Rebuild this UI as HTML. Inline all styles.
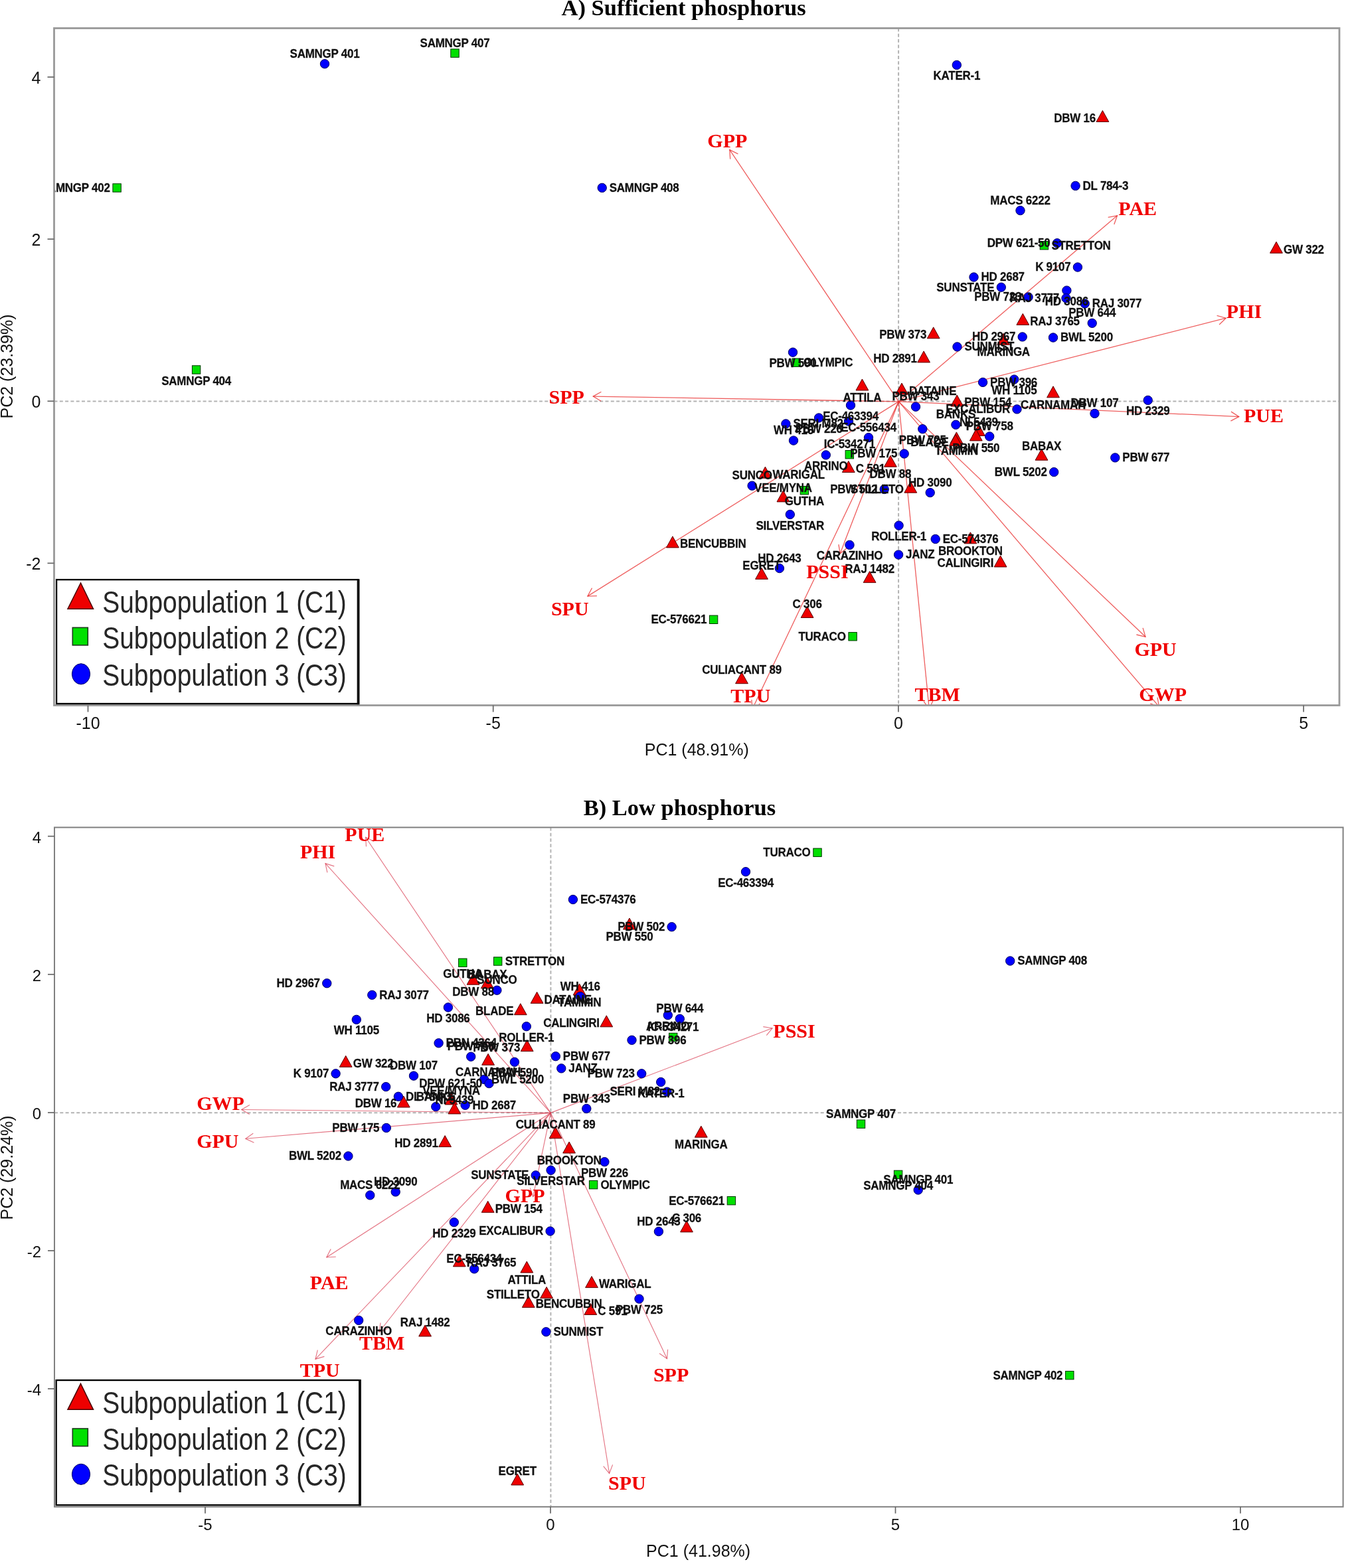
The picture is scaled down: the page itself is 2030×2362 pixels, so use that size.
<!DOCTYPE html>
<html><head><meta charset="utf-8"><title>PCA biplot</title>
<style>html,body{margin:0;padding:0;background:#fff;}svg{display:block;}</style></head>
<body><svg width="2030" height="2362" viewBox="0 0 2030 2362">
<rect width="2030" height="2362" fill="#fff"/>
<defs><clipPath id="clipA"><rect x="81.5" y="42.5" width="1935.5" height="1020.0"/></clipPath></defs>
<g stroke="#b3b3b3" stroke-width="2" stroke-dasharray="5,3.3" fill="none">
<line x1="1353.1" y1="42.5" x2="1353.1" y2="1062.5"/>
<line x1="81.5" y1="604.5" x2="2017.0" y2="604.5"/>
</g>
<g clip-path="url(#clipA)" stroke="#e82828" stroke-opacity="0.75" stroke-width="1.3" fill="none">
<line x1="1353.3" y1="604.9" x2="1098.8" y2="225.6"/><polyline points="1111.4,231.8 1098.8,225.6 1099.7,239.6"/>
<line x1="1353.3" y1="604.9" x2="1682.5" y2="324.8"/><polyline points="1677.8,338.0 1682.5,324.8 1668.7,327.3"/>
<line x1="1353.3" y1="604.9" x2="1846.1" y2="479.2"/><polyline points="1836.1,489.0 1846.1,479.2 1832.6,475.4"/>
<line x1="1353.3" y1="604.9" x2="1865.8" y2="627.6"/><polyline points="1853.4,634.1 1865.8,627.6 1854.0,620.1"/>
<line x1="1353.3" y1="604.9" x2="1725.0" y2="959.3"/><polyline points="1711.4,956.0 1725.0,959.3 1721.1,945.9"/>
<line x1="1353.3" y1="604.9" x2="1745.5" y2="1064.5"/><polyline points="1732.3,1059.8 1745.5,1064.5 1743.0,1050.7"/>
<line x1="1353.3" y1="604.9" x2="1399.3" y2="1068.0"/><polyline points="1391.1,1056.6 1399.3,1068.0 1405.1,1055.2"/>
<line x1="1353.3" y1="604.9" x2="1133.0" y2="1068.0"/><polyline points="1131.9,1054.0 1133.0,1068.0 1144.5,1060.1"/>
<line x1="1353.3" y1="604.9" x2="884.9" y2="898.1"/><polyline points="891.5,885.7 884.9,898.1 898.9,897.6"/>
<line x1="1353.3" y1="604.9" x2="893.2" y2="597.1"/><polyline points="905.4,590.3 893.2,597.1 905.2,604.3"/>
<line x1="1353.3" y1="604.9" x2="1265.1" y2="833.9"/><polyline points="1262.9,820.1 1265.1,833.9 1276.0,825.1"/>
</g>
<g clip-path="url(#clipA)">
<g fill="#ee0000" stroke="#5a0000" stroke-width="1">
<path d="M1660.4 166.5L1669.8 183.5L1651.0 183.5Z"/>
<path d="M1922.0 364.2L1931.4 381.2L1912.6 381.2Z"/>
<path d="M1540.3 472.4L1549.7 489.4L1530.9 489.4Z"/>
<path d="M1511.2 502.3L1520.6 519.3L1501.8 519.3Z"/>
<path d="M1405.7 492.8L1415.1 509.8L1396.3 509.8Z"/>
<path d="M1391.1 528.9L1400.5 545.9L1381.7 545.9Z"/>
<path d="M1298.4 571.0L1307.8 588.0L1289.0 588.0Z"/>
<path d="M1358.0 577.1L1367.4 594.1L1348.6 594.1Z"/>
<path d="M1586.0 581.8L1595.4 598.8L1576.6 598.8Z"/>
<path d="M1441.2 595.0L1450.6 612.0L1431.8 612.0Z"/>
<path d="M1473.9 639.4L1483.3 656.4L1464.5 656.4Z"/>
<path d="M1469.8 646.9L1479.2 663.9L1460.4 663.9Z"/>
<path d="M1440.4 650.9L1449.8 667.9L1431.0 667.9Z"/>
<path d="M1439.0 654.4L1448.4 671.4L1429.6 671.4Z"/>
<path d="M1568.5 676.2L1577.9 693.2L1559.1 693.2Z"/>
<path d="M1340.9 686.2L1350.3 703.2L1331.5 703.2Z"/>
<path d="M1277.8 694.5L1287.2 711.5L1268.4 711.5Z"/>
<path d="M1152.4 703.2L1161.8 720.2L1143.0 720.2Z"/>
<path d="M1179.4 738.9L1188.8 755.9L1170.0 755.9Z"/>
<path d="M1371.3 725.2L1380.7 742.2L1361.9 742.2Z"/>
<path d="M1012.9 807.9L1022.3 824.9L1003.5 824.9Z"/>
<path d="M1461.4 801.8L1470.8 818.8L1452.0 818.8Z"/>
<path d="M1506.6 837.0L1516.0 854.0L1497.2 854.0Z"/>
<path d="M1309.6 860.6L1319.0 877.6L1300.2 877.6Z"/>
<path d="M1147.0 855.4L1156.4 872.4L1137.6 872.4Z"/>
<path d="M1215.6 913.4L1225.0 930.4L1206.2 930.4Z"/>
<path d="M1117.0 1012.7L1126.4 1029.7L1107.6 1029.7Z"/>
</g><g fill="#00e000" stroke="#003300" stroke-width="1">
<rect x="678.8" y="73.9" width="12.4" height="12.4"/>
<rect x="169.9" y="276.8" width="12.4" height="12.4"/>
<rect x="289.4" y="550.8" width="12.4" height="12.4"/>
<rect x="1566.2" y="363.5" width="12.4" height="12.4"/>
<rect x="1192.9" y="540.0" width="12.4" height="12.4"/>
<rect x="1273.1" y="678.5" width="12.4" height="12.4"/>
<rect x="1205.2" y="732.5" width="12.4" height="12.4"/>
<rect x="1068.4" y="927.1" width="12.4" height="12.4"/>
<rect x="1277.9" y="952.6" width="12.4" height="12.4"/>
</g><g fill="#0000ff" stroke="#000060" stroke-width="1">
<circle cx="489.0" cy="96.2" r="6.7"/>
<circle cx="906.7" cy="282.9" r="6.7"/>
<circle cx="1440.8" cy="97.9" r="6.7"/>
<circle cx="1619.6" cy="279.9" r="6.7"/>
<circle cx="1536.5" cy="317.1" r="6.7"/>
<circle cx="1592.0" cy="366.3" r="6.7"/>
<circle cx="1622.9" cy="402.5" r="6.7"/>
<circle cx="1466.5" cy="417.5" r="6.7"/>
<circle cx="1507.8" cy="432.7" r="6.7"/>
<circle cx="1548.6" cy="447.4" r="6.7"/>
<circle cx="1606.4" cy="437.6" r="6.7"/>
<circle cx="1605.5" cy="449.2" r="6.7"/>
<circle cx="1633.7" cy="457.4" r="6.7"/>
<circle cx="1644.7" cy="486.8" r="6.7"/>
<circle cx="1539.7" cy="507.4" r="6.7"/>
<circle cx="1586.0" cy="508.5" r="6.7"/>
<circle cx="1441.5" cy="522.4" r="6.7"/>
<circle cx="1480.1" cy="575.9" r="6.7"/>
<circle cx="1527.3" cy="571.6" r="6.7"/>
<circle cx="1728.7" cy="602.9" r="6.7"/>
<circle cx="1648.5" cy="622.9" r="6.7"/>
<circle cx="1379.0" cy="612.7" r="6.7"/>
<circle cx="1531.5" cy="616.4" r="6.7"/>
<circle cx="1439.4" cy="639.8" r="6.7"/>
<circle cx="1490.2" cy="657.4" r="6.7"/>
<circle cx="1389.3" cy="646.2" r="6.7"/>
<circle cx="1679.3" cy="689.4" r="6.7"/>
<circle cx="1587.2" cy="711.1" r="6.7"/>
<circle cx="1361.7" cy="683.5" r="6.7"/>
<circle cx="1400.7" cy="742.1" r="6.7"/>
<circle cx="1194.0" cy="530.7" r="6.7"/>
<circle cx="1281.0" cy="610.5" r="6.7"/>
<circle cx="1233.1" cy="629.5" r="6.7"/>
<circle cx="1278.0" cy="634.6" r="6.7"/>
<circle cx="1183.4" cy="638.4" r="6.7"/>
<circle cx="1195.0" cy="663.6" r="6.7"/>
<circle cx="1308.0" cy="659.1" r="6.7"/>
<circle cx="1243.8" cy="685.4" r="6.7"/>
<circle cx="1132.6" cy="731.7" r="6.7"/>
<circle cx="1189.8" cy="775.0" r="6.7"/>
<circle cx="1331.7" cy="737.0" r="6.7"/>
<circle cx="1279.5" cy="820.9" r="6.7"/>
<circle cx="1353.6" cy="791.6" r="6.7"/>
<circle cx="1353.1" cy="835.6" r="6.7"/>
<circle cx="1408.7" cy="812.0" r="6.7"/>
<circle cx="1173.9" cy="856.1" r="6.7"/>
</g>
<g font-family="Liberation Sans, Arial, sans-serif" font-weight="bold" font-size="17" letter-spacing="-0.25" fill="#111" stroke="#111" stroke-width="0.25">
<text transform="translate(1649.9 183.9) scale(1 1.06)" text-anchor="end">DBW 16</text>
<text transform="translate(1933.0 381.6) scale(1 1.06)" text-anchor="start">GW 322</text>
<text transform="translate(1551.3 489.8) scale(1 1.06)" text-anchor="start">RAJ 3765</text>
<text transform="translate(1511.2 536.4) scale(1 1.06)" text-anchor="middle">MARINGA</text>
<text transform="translate(1395.2 510.2) scale(1 1.06)" text-anchor="end">PBW 373</text>
<text transform="translate(1380.6 546.3) scale(1 1.06)" text-anchor="end">HD 2891</text>
<text transform="translate(1298.4 605.1) scale(1 1.06)" text-anchor="middle">ATTILA</text>
<text transform="translate(1369.0 594.5) scale(1 1.06)" text-anchor="start">DATAINE</text>
<text transform="translate(1586.0 615.9) scale(1 1.06)" text-anchor="middle">CARNAMAH</text>
<text transform="translate(1452.2 612.4) scale(1 1.06)" text-anchor="start">PBW 154</text>
<text transform="translate(1473.9 641.5) scale(1 1.06)" text-anchor="middle">NI 5439</text>
<text transform="translate(1469.8 681.0) scale(1 1.06)" text-anchor="middle">PBW 550</text>
<text transform="translate(1440.4 685.0) scale(1 1.06)" text-anchor="middle">TAMMIN</text>
<text transform="translate(1428.5 671.8) scale(1 1.06)" text-anchor="end">BLADE</text>
<text transform="translate(1568.5 678.3) scale(1 1.06)" text-anchor="middle">BABAX</text>
<text transform="translate(1340.9 720.3) scale(1 1.06)" text-anchor="middle">DBW 88</text>
<text transform="translate(1288.8 711.9) scale(1 1.06)" text-anchor="start">C 591</text>
<text transform="translate(1163.4 720.6) scale(1 1.06)" text-anchor="start">WARIGAL</text>
<text transform="translate(1179.4 741.0) scale(1 1.06)" text-anchor="middle">VEE/MYNA</text>
<text transform="translate(1360.8 742.6) scale(1 1.06)" text-anchor="end">STILLETO</text>
<text transform="translate(1023.9 825.3) scale(1 1.06)" text-anchor="start">BENCUBBIN</text>
<text transform="translate(1461.4 835.9) scale(1 1.06)" text-anchor="middle">BROOKTON</text>
<text transform="translate(1496.1 854.4) scale(1 1.06)" text-anchor="end">CALINGIRI</text>
<text transform="translate(1309.6 862.7) scale(1 1.06)" text-anchor="middle">RAJ 1482</text>
<text transform="translate(1147.0 857.5) scale(1 1.06)" text-anchor="middle">EGRET</text>
<text transform="translate(1215.6 915.5) scale(1 1.06)" text-anchor="middle">C 306</text>
<text transform="translate(1117.0 1014.8) scale(1 1.06)" text-anchor="middle">CULIACANT 89</text>
<text transform="translate(685.0 70.6) scale(1 1.06)" text-anchor="middle">SAMNGP 407</text>
<text transform="translate(165.6 288.8) scale(1 1.06)" text-anchor="end">SAMNGP 402</text>
<text transform="translate(295.6 579.5) scale(1 1.06)" text-anchor="middle">SAMNGP 404</text>
<text transform="translate(1583.4 375.5) scale(1 1.06)" text-anchor="start">STRETTON</text>
<text transform="translate(1210.1 552.0) scale(1 1.06)" text-anchor="start">OLYMPIC</text>
<text transform="translate(1279.3 675.2) scale(1 1.06)" text-anchor="middle">IC-534271</text>
<text transform="translate(1211.4 761.2) scale(1 1.06)" text-anchor="middle">GUTHA</text>
<text transform="translate(1064.1 939.1) scale(1 1.06)" text-anchor="end">EC-576621</text>
<text transform="translate(1273.6 964.6) scale(1 1.06)" text-anchor="end">TURACO</text>
<text transform="translate(489.0 86.7) scale(1 1.06)" text-anchor="middle">SAMNGP 401</text>
<text transform="translate(917.7 288.7) scale(1 1.06)" text-anchor="start">SAMNGP 408</text>
<text transform="translate(1440.8 120.4) scale(1 1.06)" text-anchor="middle">KATER-1</text>
<text transform="translate(1630.6 285.7) scale(1 1.06)" text-anchor="start">DL 784-3</text>
<text transform="translate(1536.5 307.6) scale(1 1.06)" text-anchor="middle">MACS 6222</text>
<text transform="translate(1581.5 372.1) scale(1 1.06)" text-anchor="end">DPW 621-50</text>
<text transform="translate(1612.4 408.3) scale(1 1.06)" text-anchor="end">K 9107</text>
<text transform="translate(1477.5 423.3) scale(1 1.06)" text-anchor="start">HD 2687</text>
<text transform="translate(1497.3 438.5) scale(1 1.06)" text-anchor="end">SUNSTATE</text>
<text transform="translate(1538.1 453.2) scale(1 1.06)" text-anchor="end">PBW 723</text>
<text transform="translate(1606.4 460.1) scale(1 1.06)" text-anchor="middle">HD 3086</text>
<text transform="translate(1595.0 455.0) scale(1 1.06)" text-anchor="end">RAJ 3777</text>
<text transform="translate(1644.7 463.2) scale(1 1.06)" text-anchor="start">RAJ 3077</text>
<text transform="translate(1644.7 477.3) scale(1 1.06)" text-anchor="middle">PBW 644</text>
<text transform="translate(1529.2 513.2) scale(1 1.06)" text-anchor="end">HD 2967</text>
<text transform="translate(1597.0 514.3) scale(1 1.06)" text-anchor="start">BWL 5200</text>
<text transform="translate(1452.5 528.2) scale(1 1.06)" text-anchor="start">SUNMIST</text>
<text transform="translate(1491.1 581.7) scale(1 1.06)" text-anchor="start">PBW 396</text>
<text transform="translate(1527.3 594.1) scale(1 1.06)" text-anchor="middle">WH 1105</text>
<text transform="translate(1728.7 625.4) scale(1 1.06)" text-anchor="middle">HD 2329</text>
<text transform="translate(1648.5 613.4) scale(1 1.06)" text-anchor="middle">DBW 107</text>
<text transform="translate(1379.0 603.2) scale(1 1.06)" text-anchor="middle">PBW 343</text>
<text transform="translate(1521.0 622.2) scale(1 1.06)" text-anchor="end">EXCALIBUR</text>
<text transform="translate(1439.4 630.3) scale(1 1.06)" text-anchor="middle">BANKS</text>
<text transform="translate(1490.2 647.9) scale(1 1.06)" text-anchor="middle">PBW 758</text>
<text transform="translate(1389.3 668.7) scale(1 1.06)" text-anchor="middle">PBW 725</text>
<text transform="translate(1690.3 695.2) scale(1 1.06)" text-anchor="start">PBW 677</text>
<text transform="translate(1576.7 716.9) scale(1 1.06)" text-anchor="end">BWL 5202</text>
<text transform="translate(1351.2 689.3) scale(1 1.06)" text-anchor="end">PBW 175</text>
<text transform="translate(1400.7 732.6) scale(1 1.06)" text-anchor="middle">HD 3090</text>
<text transform="translate(1194.0 553.2) scale(1 1.06)" text-anchor="middle">PBW 590</text>
<text transform="translate(1281.0 633.0) scale(1 1.06)" text-anchor="middle">EC-463394</text>
<text transform="translate(1233.1 652.0) scale(1 1.06)" text-anchor="middle">PBW 226</text>

<text transform="translate(1194.4 644.2) scale(1 1.06)" text-anchor="start">SERI M82</text>
<text transform="translate(1195.0 654.1) scale(1 1.06)" text-anchor="middle">WH 416</text>
<text transform="translate(1308.0 649.6) scale(1 1.06)" text-anchor="middle">EC-556434</text>
<text transform="translate(1243.8 707.9) scale(1 1.06)" text-anchor="middle">ARRINO</text>
<text transform="translate(1132.6 722.2) scale(1 1.06)" text-anchor="middle">SUNCO</text>
<text transform="translate(1189.8 797.5) scale(1 1.06)" text-anchor="middle">SILVERSTAR</text>
<text transform="translate(1321.2 742.8) scale(1 1.06)" text-anchor="end">PBW 502</text>
<text transform="translate(1279.5 843.4) scale(1 1.06)" text-anchor="middle">CARAZINHO</text>
<text transform="translate(1353.6 814.1) scale(1 1.06)" text-anchor="middle">ROLLER-1</text>
<text transform="translate(1364.1 841.4) scale(1 1.06)" text-anchor="start">JANZ</text>
<text transform="translate(1419.7 817.8) scale(1 1.06)" text-anchor="start">EC-574376</text>
<text transform="translate(1173.9 846.6) scale(1 1.06)" text-anchor="middle">HD 2643</text>
</g>
<g font-family="Liberation Serif, Times New Roman, serif" font-weight="bold" font-size="30" fill="#f00000">
<text transform="translate(1065.3 222.0) scale(1 1)">GPP</text>
<text transform="translate(1684.3 324.3) scale(1 1)">PAE</text>
<text transform="translate(1846.8 478.8) scale(1 1)">PHI</text>
<text transform="translate(1872.9 636.1) scale(1 1)">PUE</text>
<text transform="translate(1708.4 988.3) scale(1 1)">GPU</text>
<text transform="translate(1715.3 1056.2) scale(1 1)">GWP</text>
<text transform="translate(1377.6 1055.8) scale(1 1)">TBM</text>
<text transform="translate(1100.3 1057.6) scale(1 1)">TPU</text>
<text transform="translate(829.9 926.6) scale(1 1)">SPU</text>
<text transform="translate(826.6 608.3) scale(1 1)">SPP</text>
<text transform="translate(1214.2 871.2) scale(1 1)">PSSI</text>
</g>
</g>
<rect x="81.5" y="42.5" width="1935.5" height="1020.0" fill="none" stroke="#999" stroke-width="2.8"/>
<g stroke="#666" stroke-width="1.7">
<line x1="132.5" y1="1062.5" x2="132.5" y2="1072.5"/>
<line x1="742.7" y1="1062.5" x2="742.7" y2="1072.5"/>
<line x1="1352.9" y1="1062.5" x2="1352.9" y2="1072.5"/>
<line x1="1963.1" y1="1062.5" x2="1963.1" y2="1072.5"/>
<line x1="71.5" y1="116.1" x2="81.5" y2="116.1"/>
<line x1="71.5" y1="360.2" x2="81.5" y2="360.2"/>
<line x1="71.5" y1="604.3" x2="81.5" y2="604.3"/>
<line x1="71.5" y1="848.4" x2="81.5" y2="848.4"/>
</g>
<g font-family="Liberation Sans, Arial, sans-serif" font-size="25" fill="#111">
<text x="132.5" y="1098.0" text-anchor="middle">-10</text>
<text x="742.7" y="1098.0" text-anchor="middle">-5</text>
<text x="1352.9" y="1098.0" text-anchor="middle">0</text>
<text x="1963.1" y="1098.0" text-anchor="middle">5</text>
<text x="61.5" y="126.0" text-anchor="end">4</text>
<text x="61.5" y="370.1" text-anchor="end">2</text>
<text x="61.5" y="614.2" text-anchor="end">0</text>
<text x="61.5" y="858.3" text-anchor="end">-2</text>
<text x="1049.3" y="1138.0" text-anchor="middle" font-size="25">PC1 (48.91%)</text>
<text transform="translate(18.7,552.0) rotate(-90)" text-anchor="middle" font-size="25">PC2 (23.39%)</text>
</g>
<text x="1029.6" y="23.0" text-anchor="middle" font-family="Liberation Serif, Times New Roman, serif" font-weight="bold" font-size="34.5" fill="#000" style="font-variant-ligatures:none">A) Sufficient phosphorus</text>
<rect x="85.1" y="873.2" width="454.0" height="186.8" fill="#fff" stroke="#000" stroke-width="2.3"/>
<line x1="539.6" y1="872.2" x2="539.6" y2="1061.2" stroke="#0a0a0a" stroke-width="3.8"/>
<path d="M121.5 878.2 L140.5 917.2 L102 917.2 Z" fill="#ee0000" stroke="#4a0000" stroke-width="1.5"/>
<rect x="109.3" y="945.4" width="23" height="26.5" fill="#00e000" stroke="#1a3a1a" stroke-width="1.6"/>
<ellipse cx="122" cy="1015.3" rx="13.6" ry="15.6" fill="#0000ff" stroke="#000060" stroke-width="1"/>
<g font-family="Liberation Sans, Arial, sans-serif" font-size="47" fill="#262626">
<text transform="translate(154.2,922.7) scale(0.828,1)">Subpopulation 1 (C1)</text>
<text transform="translate(154.2,976.9) scale(0.828,1)">Subpopulation 2 (C2)</text>
<text transform="translate(154.2,1032.8) scale(0.828,1)">Subpopulation 3 (C3)</text>
</g>
<defs><clipPath id="clipB"><rect x="82.0" y="1246.4" width="1940.6" height="1023.4"/></clipPath></defs>
<g stroke="#b3b3b3" stroke-width="2" stroke-dasharray="5,3.3" fill="none">
<line x1="829.4" y1="1246.4" x2="829.4" y2="2269.8"/>
<line x1="82.0" y1="1676.3" x2="2022.6" y2="1676.3"/>
</g>
<g clip-path="url(#clipB)" stroke="#d83a50" stroke-opacity="0.7" stroke-width="1.15" fill="none">
<line x1="829.2" y1="1676.4" x2="490.0" y2="1300.6"/><polyline points="503.3,1304.9 490.0,1300.6 492.9,1314.3"/>
<line x1="829.2" y1="1676.4" x2="550.6" y2="1261.3"/><polyline points="563.2,1267.5 550.6,1261.3 551.5,1275.3"/>
<line x1="829.2" y1="1676.4" x2="363.7" y2="1671.5"/><polyline points="375.9,1664.6 363.7,1671.5 375.8,1678.6"/>
<line x1="829.2" y1="1676.4" x2="369.8" y2="1715.3"/><polyline points="381.3,1707.3 369.8,1715.3 382.5,1721.3"/>
<line x1="829.2" y1="1676.4" x2="491.8" y2="1894.0"/><polyline points="498.2,1881.5 491.8,1894.0 505.8,1893.3"/>
<line x1="829.2" y1="1676.4" x2="475.0" y2="2047.3"/><polyline points="478.3,2033.7 475.0,2047.3 488.4,2043.4"/>
<line x1="829.2" y1="1676.4" x2="571.0" y2="2006.5"/><polyline points="573.0,1992.6 571.0,2006.5 584.0,2001.3"/>
<line x1="829.2" y1="1676.4" x2="802.7" y2="1802.7"/><polyline points="798.3,1789.4 802.7,1802.7 812.0,1792.3"/>
<line x1="829.2" y1="1676.4" x2="917.6" y2="2219.5"/><polyline points="908.7,2208.7 917.6,2219.5 922.6,2206.4"/>
<line x1="829.2" y1="1676.4" x2="1004.5" y2="2046.7"/><polyline points="993.0,2038.7 1004.5,2046.7 1005.6,2032.7"/>
<line x1="829.2" y1="1676.4" x2="1163.1" y2="1548.8"/><polyline points="1154.3,1559.7 1163.1,1548.8 1149.3,1546.6"/>
</g>
<g clip-path="url(#clipB)">
<g fill="#ee0000" stroke="#5a0000" stroke-width="1">
<path d="M947.9 1383.0L957.3 1400.0L938.5 1400.0Z"/>
<path d="M712.6 1466.2L722.0 1483.2L703.2 1483.2Z"/>
<path d="M733.8 1471.8L743.2 1488.8L724.4 1488.8Z"/>
<path d="M808.6 1494.3L818.0 1511.3L799.2 1511.3Z"/>
<path d="M872.6 1481.9L882.0 1498.9L863.2 1498.9Z"/>
<path d="M783.8 1511.7L793.2 1528.7L774.4 1528.7Z"/>
<path d="M913.3 1529.8L922.7 1546.8L903.9 1546.8Z"/>
<path d="M793.7 1566.6L803.1 1583.6L784.3 1583.6Z"/>
<path d="M735.1 1587.3L744.5 1604.3L725.7 1604.3Z"/>
<path d="M520.7 1590.3L530.1 1607.3L511.3 1607.3Z"/>
<path d="M607.8 1651.0L617.2 1668.0L598.4 1668.0Z"/>
<path d="M679.5 1646.9L688.9 1663.9L670.1 1663.9Z"/>
<path d="M684.4 1660.9L693.8 1677.9L675.0 1677.9Z"/>
<path d="M670.1 1710.6L679.5 1727.6L660.7 1727.6Z"/>
<path d="M1055.8 1696.2L1065.2 1713.2L1046.4 1713.2Z"/>
<path d="M836.6 1697.8L846.0 1714.8L827.2 1714.8Z"/>
<path d="M857.1 1720.0L866.5 1737.0L847.7 1737.0Z"/>
<path d="M734.7 1809.3L744.1 1826.3L725.3 1826.3Z"/>
<path d="M1034.0 1838.9L1043.4 1855.9L1024.6 1855.9Z"/>
<path d="M691.8 1890.9L701.2 1907.9L682.4 1907.9Z"/>
<path d="M793.3 1900.1L802.7 1917.1L783.9 1917.1Z"/>
<path d="M823.1 1938.6L832.5 1955.6L813.7 1955.6Z"/>
<path d="M795.8 1952.4L805.2 1969.4L786.4 1969.4Z"/>
<path d="M891.0 1922.6L900.4 1939.6L881.6 1939.6Z"/>
<path d="M889.3 1963.4L898.7 1980.4L879.9 1980.4Z"/>
<path d="M640.1 1996.0L649.5 2013.0L630.7 2013.0Z"/>
<path d="M779.2 2220.0L788.6 2237.0L769.8 2237.0Z"/>
</g><g fill="#00e000" stroke="#003300" stroke-width="1">
<rect x="1224.8" y="1278.0" width="12.4" height="12.4"/>
<rect x="690.6" y="1444.0" width="12.4" height="12.4"/>
<rect x="743.5" y="1441.8" width="12.4" height="12.4"/>
<rect x="1007.5" y="1556.3" width="12.4" height="12.4"/>
<rect x="887.4" y="1778.5" width="12.4" height="12.4"/>
<rect x="1095.2" y="1802.5" width="12.4" height="12.4"/>
<rect x="1290.3" y="1687.0" width="12.4" height="12.4"/>
<rect x="1346.4" y="1763.2" width="12.4" height="12.4"/>
<rect x="1604.6" y="2065.5" width="12.4" height="12.4"/>
</g><g fill="#0000ff" stroke="#000060" stroke-width="1">
<circle cx="1521.2" cy="1447.5" r="6.7"/>
<circle cx="1382.7" cy="1792.5" r="6.7"/>
<circle cx="1123.0" cy="1313.2" r="6.7"/>
<circle cx="862.9" cy="1355.0" r="6.7"/>
<circle cx="1011.6" cy="1396.2" r="6.7"/>
<circle cx="492.3" cy="1481.2" r="6.7"/>
<circle cx="560.3" cy="1498.8" r="6.7"/>
<circle cx="536.8" cy="1535.9" r="6.7"/>
<circle cx="674.9" cy="1517.5" r="6.7"/>
<circle cx="873.7" cy="1501.0" r="6.7"/>
<circle cx="792.8" cy="1546.2" r="6.7"/>
<circle cx="1023.8" cy="1534.7" r="6.7"/>
<circle cx="1005.8" cy="1529.2" r="6.7"/>
<circle cx="951.5" cy="1566.8" r="6.7"/>
<circle cx="836.8" cy="1591.2" r="6.7"/>
<circle cx="845.3" cy="1609.4" r="6.7"/>
<circle cx="966.2" cy="1617.3" r="6.7"/>
<circle cx="995.2" cy="1630.0" r="6.7"/>
<circle cx="1004.4" cy="1644.6" r="6.7"/>
<circle cx="883.3" cy="1670.0" r="6.7"/>
<circle cx="505.6" cy="1617.3" r="6.7"/>
<circle cx="623.0" cy="1620.6" r="6.7"/>
<circle cx="581.2" cy="1637.1" r="6.7"/>
<circle cx="599.9" cy="1651.8" r="6.7"/>
<circle cx="656.3" cy="1667.1" r="6.7"/>
<circle cx="700.6" cy="1664.8" r="6.7"/>
<circle cx="581.8" cy="1699.0" r="6.7"/>
<circle cx="660.6" cy="1571.3" r="6.7"/>
<circle cx="709.2" cy="1591.7" r="6.7"/>
<circle cx="748.4" cy="1491.7" r="6.7"/>
<circle cx="774.9" cy="1599.8" r="6.7"/>
<circle cx="729.1" cy="1626.0" r="6.7"/>
<circle cx="736.5" cy="1632.1" r="6.7"/>
<circle cx="524.4" cy="1741.5" r="6.7"/>
<circle cx="557.3" cy="1800.4" r="6.7"/>
<circle cx="595.7" cy="1795.4" r="6.7"/>
<circle cx="683.8" cy="1841.2" r="6.7"/>
<circle cx="910.4" cy="1750.2" r="6.7"/>
<circle cx="829.6" cy="1762.8" r="6.7"/>
<circle cx="806.7" cy="1770.4" r="6.7"/>
<circle cx="828.6" cy="1854.6" r="6.7"/>
<circle cx="991.9" cy="1855.1" r="6.7"/>
<circle cx="714.2" cy="1911.4" r="6.7"/>
<circle cx="540.2" cy="1988.9" r="6.7"/>
<circle cx="962.5" cy="1956.6" r="6.7"/>
<circle cx="822.4" cy="2006.3" r="6.7"/>
</g>
<g font-family="Liberation Sans, Arial, sans-serif" font-weight="bold" font-size="17" letter-spacing="-0.25" fill="#111" stroke="#111" stroke-width="0.25">
<text transform="translate(947.9 1417.1) scale(1 1.06)" text-anchor="middle">PBW 550</text>
<text transform="translate(712.6 1500.3) scale(1 1.06)" text-anchor="middle">DBW 88</text>
<text transform="translate(733.8 1473.9) scale(1 1.06)" text-anchor="middle">BABAX</text>
<text transform="translate(819.6 1511.7) scale(1 1.06)" text-anchor="start">DATAINE</text>
<text transform="translate(872.6 1516.0) scale(1 1.06)" text-anchor="middle">TAMMIN</text>
<text transform="translate(773.3 1529.1) scale(1 1.06)" text-anchor="end">BLADE</text>
<text transform="translate(902.8 1547.2) scale(1 1.06)" text-anchor="end">CALINGIRI</text>
<text transform="translate(783.2 1584.0) scale(1 1.06)" text-anchor="end">PBW 373</text>
<text transform="translate(735.1 1621.4) scale(1 1.06)" text-anchor="middle">CARNAMAH</text>
<text transform="translate(531.7 1607.7) scale(1 1.06)" text-anchor="start">GW 322</text>
<text transform="translate(597.3 1668.4) scale(1 1.06)" text-anchor="end">DBW 16</text>
<text transform="translate(679.5 1649.0) scale(1 1.06)" text-anchor="middle">VEE/MYNA</text>
<text transform="translate(684.4 1663.0) scale(1 1.06)" text-anchor="middle">NI 5439</text>
<text transform="translate(659.6 1728.0) scale(1 1.06)" text-anchor="end">HD 2891</text>
<text transform="translate(1055.8 1730.3) scale(1 1.06)" text-anchor="middle">MARINGA</text>
<text transform="translate(836.6 1699.9) scale(1 1.06)" text-anchor="middle">CULIACANT 89</text>
<text transform="translate(857.1 1754.1) scale(1 1.06)" text-anchor="middle">BROOKTON</text>
<text transform="translate(745.7 1826.7) scale(1 1.06)" text-anchor="start">PBW 154</text>
<text transform="translate(1034.0 1841.0) scale(1 1.06)" text-anchor="middle">C 306</text>
<text transform="translate(702.8 1908.3) scale(1 1.06)" text-anchor="start">RAJ 3765</text>
<text transform="translate(793.3 1934.2) scale(1 1.06)" text-anchor="middle">ATTILA</text>
<text transform="translate(812.6 1956.0) scale(1 1.06)" text-anchor="end">STILLETO</text>
<text transform="translate(806.8 1969.8) scale(1 1.06)" text-anchor="start">BENCUBBIN</text>
<text transform="translate(902.0 1940.0) scale(1 1.06)" text-anchor="start">WARIGAL</text>
<text transform="translate(900.3 1980.8) scale(1 1.06)" text-anchor="start">C 591</text>
<text transform="translate(640.1 1998.1) scale(1 1.06)" text-anchor="middle">RAJ 1482</text>
<text transform="translate(779.2 2222.1) scale(1 1.06)" text-anchor="middle">EGRET</text>
<text transform="translate(1220.5 1290.0) scale(1 1.06)" text-anchor="end">TURACO</text>
<text transform="translate(696.8 1472.7) scale(1 1.06)" text-anchor="middle">GUTHA</text>
<text transform="translate(760.7 1453.8) scale(1 1.06)" text-anchor="start">STRETTON</text>
<text transform="translate(1013.7 1553.0) scale(1 1.06)" text-anchor="middle">IC-534271</text>
<text transform="translate(904.6 1790.5) scale(1 1.06)" text-anchor="start">OLYMPIC</text>
<text transform="translate(1090.9 1814.5) scale(1 1.06)" text-anchor="end">EC-576621</text>
<text transform="translate(1296.5 1683.7) scale(1 1.06)" text-anchor="middle">SAMNGP 407</text>
<text transform="translate(1352.6 1791.9) scale(1 1.06)" text-anchor="middle">SAMNGP 404</text>
<text transform="translate(1600.3 2077.5) scale(1 1.06)" text-anchor="end">SAMNGP 402</text>
<text transform="translate(1532.2 1453.3) scale(1 1.06)" text-anchor="start">SAMNGP 408</text>
<text transform="translate(1382.7 1783.0) scale(1 1.06)" text-anchor="middle">SAMNGP 401</text>
<text transform="translate(1123.0 1335.7) scale(1 1.06)" text-anchor="middle">EC-463394</text>
<text transform="translate(873.9 1360.8) scale(1 1.06)" text-anchor="start">EC-574376</text>
<text transform="translate(1001.1 1402.0) scale(1 1.06)" text-anchor="end">PBW 502</text>
<text transform="translate(481.8 1487.0) scale(1 1.06)" text-anchor="end">HD 2967</text>
<text transform="translate(571.3 1504.6) scale(1 1.06)" text-anchor="start">RAJ 3077</text>
<text transform="translate(536.8 1558.4) scale(1 1.06)" text-anchor="middle">WH 1105</text>
<text transform="translate(674.9 1540.0) scale(1 1.06)" text-anchor="middle">HD 3086</text>
<text transform="translate(873.7 1491.5) scale(1 1.06)" text-anchor="middle">WH 416</text>
<text transform="translate(792.8 1568.7) scale(1 1.06)" text-anchor="middle">ROLLER-1</text>
<text transform="translate(1023.8 1525.2) scale(1 1.06)" text-anchor="middle">PBW 644</text>
<text transform="translate(1005.8 1551.7) scale(1 1.06)" text-anchor="middle">ARRINO</text>
<text transform="translate(962.5 1572.6) scale(1 1.06)" text-anchor="start">PBW 396</text>
<text transform="translate(847.8 1597.0) scale(1 1.06)" text-anchor="start">PBW 677</text>
<text transform="translate(856.3 1615.2) scale(1 1.06)" text-anchor="start">JANZ</text>
<text transform="translate(955.7 1623.1) scale(1 1.06)" text-anchor="end">PBW 723</text>
<text transform="translate(995.2 1652.5) scale(1 1.06)" text-anchor="middle">KATER-1</text>
<text transform="translate(993.9 1650.4) scale(1 1.06)" text-anchor="end">SERI M82</text>
<text transform="translate(883.3 1660.5) scale(1 1.06)" text-anchor="middle">PBW 343</text>
<text transform="translate(495.1 1623.1) scale(1 1.06)" text-anchor="end">K 9107</text>
<text transform="translate(623.0 1611.1) scale(1 1.06)" text-anchor="middle">DBW 107</text>
<text transform="translate(570.7 1642.9) scale(1 1.06)" text-anchor="end">RAJ 3777</text>
<text transform="translate(610.9 1657.6) scale(1 1.06)" text-anchor="start">DL 784-3</text>
<text transform="translate(656.3 1657.6) scale(1 1.06)" text-anchor="middle">BANKS</text>
<text transform="translate(711.6 1670.6) scale(1 1.06)" text-anchor="start">HD 2687</text>
<text transform="translate(571.3 1704.8) scale(1 1.06)" text-anchor="end">PBW 175</text>
<text transform="translate(671.6 1577.1) scale(1 1.06)" text-anchor="start">PBN 4364</text>
<text transform="translate(709.2 1582.2) scale(1 1.06)" text-anchor="middle">PBW 758</text>
<text transform="translate(748.4 1482.2) scale(1 1.06)" text-anchor="middle">SUNCO</text>
<text transform="translate(774.9 1622.3) scale(1 1.06)" text-anchor="middle">PBW 590</text>
<text transform="translate(740.1 1631.8) scale(1 1.06)" text-anchor="start">BWL 5200</text>
<text transform="translate(726.0 1637.9) scale(1 1.06)" text-anchor="end">DPW 621-50</text>
<text transform="translate(513.9 1747.3) scale(1 1.06)" text-anchor="end">BWL 5202</text>
<text transform="translate(557.3 1790.9) scale(1 1.06)" text-anchor="middle">MACS 6222</text>
<text transform="translate(595.7 1785.9) scale(1 1.06)" text-anchor="middle">HD 3090</text>
<text transform="translate(683.8 1863.7) scale(1 1.06)" text-anchor="middle">HD 2329</text>
<text transform="translate(910.4 1772.7) scale(1 1.06)" text-anchor="middle">PBW 226</text>
<text transform="translate(829.6 1785.3) scale(1 1.06)" text-anchor="middle">SILVERSTAR</text>
<text transform="translate(796.2 1776.2) scale(1 1.06)" text-anchor="end">SUNSTATE</text>
<text transform="translate(818.1 1860.4) scale(1 1.06)" text-anchor="end">EXCALIBUR</text>
<text transform="translate(991.9 1845.6) scale(1 1.06)" text-anchor="middle">HD 2643</text>
<text transform="translate(714.2 1901.9) scale(1 1.06)" text-anchor="middle">EC-556434</text>
<text transform="translate(540.2 2011.4) scale(1 1.06)" text-anchor="middle">CARAZINHO</text>
<text transform="translate(962.5 1979.1) scale(1 1.06)" text-anchor="middle">PBW 725</text>
<text transform="translate(833.4 2012.1) scale(1 1.06)" text-anchor="start">SUNMIST</text>
</g>
<g font-family="Liberation Serif, Times New Roman, serif" font-weight="bold" font-size="30" fill="#f00000">
<text transform="translate(451.9 1292.8) scale(1 1)">PHI</text>
<text transform="translate(519.3 1267.4) scale(1 1)">PUE</text>
<text transform="translate(296.2 1672.0) scale(1 1)">GWP</text>
<text transform="translate(296.2 1728.8) scale(1 1)">GPU</text>
<text transform="translate(466.8 1941.8) scale(1 1)">PAE</text>
<text transform="translate(451.7 2074.3) scale(1 1)">TPU</text>
<text transform="translate(540.9 2033.2) scale(1 1)">TBM</text>
<text transform="translate(760.5 1810.5) scale(1 1)">GPP</text>
<text transform="translate(916.1 2244.3) scale(1 1)">SPU</text>
<text transform="translate(983.9 2081.1) scale(1 1)">SPP</text>
<text transform="translate(1164.3 1563.2) scale(1 1)">PSSI</text>
</g>
</g>
<rect x="82.0" y="1246.4" width="1940.6" height="1023.4" fill="none" stroke="#808080" stroke-width="2.0"/>
<g stroke="#666" stroke-width="1.7">
<line x1="309.0" y1="2269.8" x2="309.0" y2="2279.8"/>
<line x1="829.0" y1="2269.8" x2="829.0" y2="2279.8"/>
<line x1="1348.5" y1="2269.8" x2="1348.5" y2="2279.8"/>
<line x1="1868.0" y1="2269.8" x2="1868.0" y2="2279.8"/>
<line x1="72.0" y1="1259.7" x2="82.0" y2="1259.7"/>
<line x1="72.0" y1="1467.8" x2="82.0" y2="1467.8"/>
<line x1="72.0" y1="1676.0" x2="82.0" y2="1676.0"/>
<line x1="72.0" y1="1884.0" x2="82.0" y2="1884.0"/>
<line x1="72.0" y1="2092.0" x2="82.0" y2="2092.0"/>
</g>
<g font-family="Liberation Sans, Arial, sans-serif" font-size="24" fill="#111">
<text x="309.0" y="2305.3" text-anchor="middle">-5</text>
<text x="829.0" y="2305.3" text-anchor="middle">0</text>
<text x="1348.5" y="2305.3" text-anchor="middle">5</text>
<text x="1868.0" y="2305.3" text-anchor="middle">10</text>
<text x="62.0" y="1269.6" text-anchor="end">4</text>
<text x="62.0" y="1477.7" text-anchor="end">2</text>
<text x="62.0" y="1685.9" text-anchor="end">0</text>
<text x="62.0" y="1893.9" text-anchor="end">-2</text>
<text x="62.0" y="2101.9" text-anchor="end">-4</text>
<text x="1051.6" y="2345.2" text-anchor="middle" font-size="25">PC1 (41.98%)</text>
<text transform="translate(18.7,1759.0) rotate(-90)" text-anchor="middle" font-size="25">PC2 (29.24%)</text>
</g>
<text x="1023.4" y="1228.3" text-anchor="middle" font-family="Liberation Serif, Times New Roman, serif" font-weight="bold" font-size="34.5" fill="#000" style="font-variant-ligatures:none">B) Low phosphorus</text>
<rect x="84.7" y="2079.1" width="456.8" height="188.1" fill="#fff" stroke="#000" stroke-width="2.3"/>
<line x1="542.0" y1="2078.1" x2="542.0" y2="2268.4" stroke="#0a0a0a" stroke-width="3.8"/>
<path d="M121.5 2084.3 L140.5 2123.3 L102 2123.3 Z" fill="#ee0000" stroke="#4a0000" stroke-width="1.5"/>
<rect x="109.3" y="2152.0" width="23" height="26.5" fill="#00e000" stroke="#1a3a1a" stroke-width="1.6"/>
<ellipse cx="122" cy="2220.8" rx="13.6" ry="15.6" fill="#0000ff" stroke="#000060" stroke-width="1"/>
<g font-family="Liberation Sans, Arial, sans-serif" font-size="47" fill="#262626">
<text transform="translate(154.2,2128.8) scale(0.828,1)">Subpopulation 1 (C1)</text>
<text transform="translate(154.2,2183.5) scale(0.828,1)">Subpopulation 2 (C2)</text>
<text transform="translate(154.2,2238.3) scale(0.828,1)">Subpopulation 3 (C3)</text>
</g>
</svg></body></html>
